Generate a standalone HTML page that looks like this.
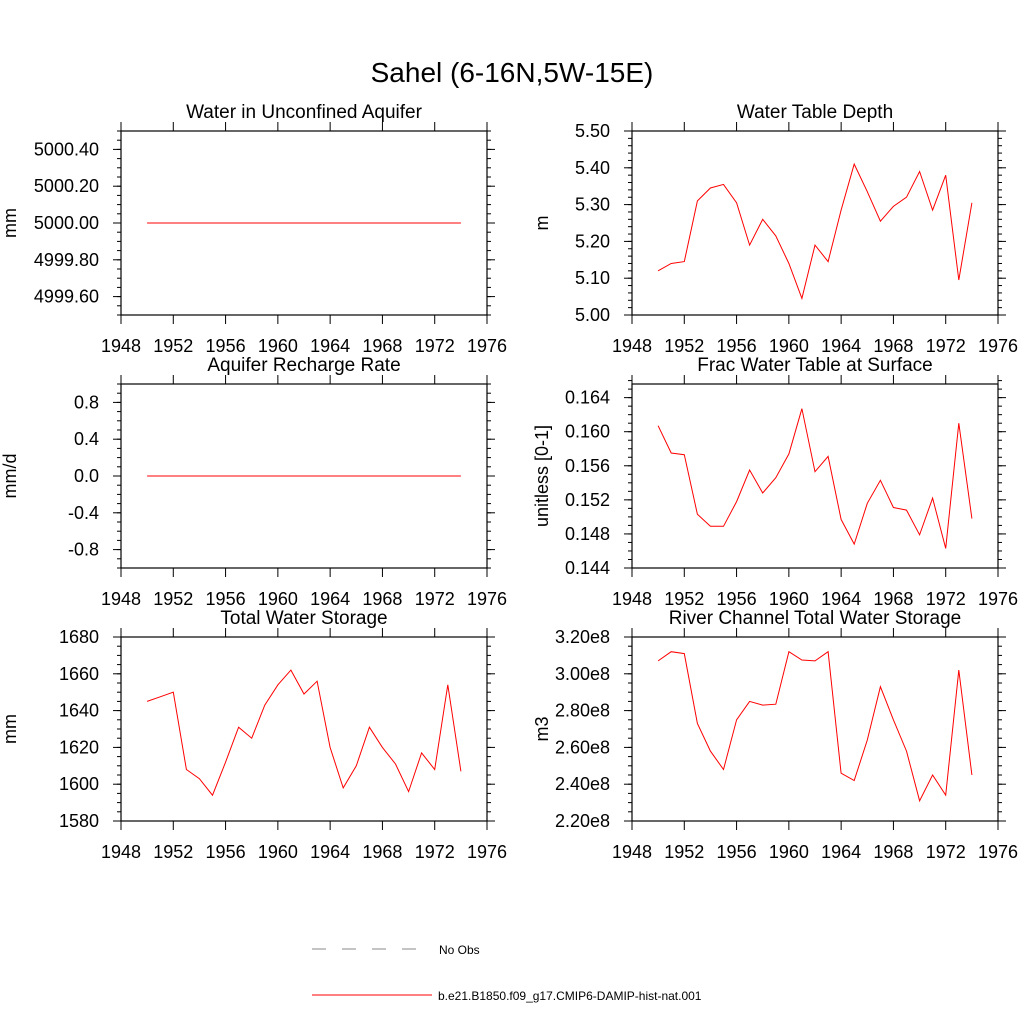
<!DOCTYPE html>
<html><head><meta charset="utf-8"><style>
body{margin:0;background:#fff}
svg text{font-family:"Liberation Sans",sans-serif;fill:#000}
</style></head><body>
<svg id="chart" width="1024" height="1024" viewBox="0 0 1024 1024" xmlns="http://www.w3.org/2000/svg">
<text x="512" y="82" font-size="28" text-anchor="middle">Sahel (6-16N,5W-15E)</text>
<g id="panels"></g>
<g>
<line x1="312" y1="949" x2="432" y2="949" stroke="#888" stroke-width="1" stroke-dasharray="14,16"/>
<text x="439" y="954" font-size="12">No Obs</text>
<line x1="312" y1="995" x2="432" y2="995" stroke="#f00" stroke-width="1"/>
<text x="438" y="1000" font-size="12">b.e21.B1850.f09_g17.CMIP6-DAMIP-hist-nat.001</text>
</g>
</svg>
<script>
const years=[1950,1951,1952,1953,1954,1955,1956,1957,1958,1959,1960,1961,1962,1963,1964,1965,1966,1967,1968,1969,1970,1971,1972,1973,1974];
const xTicks=[1948,1952,1956,1960,1964,1968,1972,1976];
const aquiferVals=[5000,5000,5000,5000,5000,5000,5000,5000,5000,5000,5000,5000,5000,5000,5000,5000,5000,5000,5000,5000,5000,5000,5000,5000,5000];
const wtdVals=[5.12,5.14,5.145,5.31,5.345,5.355,5.305,5.19,5.26,5.215,5.14,5.045,5.19,5.145,5.285,5.41,5.335,5.255,5.295,5.32,5.39,5.285,5.38,5.095,5.305];
const rechargeVals=[0,0,0,0,0,0,0,0,0,0,0,0,0,0,0,0,0,0,0,0,0,0,0,0,0];
const fracVals=[0.1607,0.1575,0.1573,0.1503,0.1489,0.1489,0.1518,0.1555,0.1528,0.1546,0.1574,0.1627,0.1553,0.1571,0.1497,0.1468,0.1516,0.1543,0.1511,0.1508,0.1479,0.1522,0.1463,0.1610,0.1498];
const twsVals=[1645,1647.5,1650,1608,1603,1594,1612,1631,1625,1643,1654,1662,1649,1656,1620,1598,1610,1631,1620,1611,1596,1617,1608,1654,1607];
const riverVals=[3.07,3.12,3.11,2.73,2.58,2.48,2.75,2.85,2.83,2.835,3.12,3.075,3.07,3.12,2.46,2.42,2.64,2.93,2.75,2.58,2.31,2.45,2.34,3.02,2.45];
const aquiferTicks=["4999.60","4999.80","5000.00","5000.20","5000.40"];
const wtdTicks=["5.00","5.10","5.20","5.30","5.40","5.50"];
const rechargeTicks=["-0.8","-0.4","0.0","0.4","0.8"];
const fracTicks=["0.144","0.148","0.152","0.156","0.160","0.164"];
const twsTicks=["1580","1600","1620","1640","1660","1680"];
const riverTicks=["2.20e8","2.40e8","2.60e8","2.80e8","3.00e8","3.20e8"];

const NS="http://www.w3.org/2000/svg";
const root=document.getElementById('panels');
function mk(tag,attrs,parent){const e=document.createElementNS(NS,tag);for(const k in attrs)e.setAttribute(k,attrs[k]);parent.appendChild(e);return e;}

const panels=[
 {name:'aquifer',title:'Water in Unconfined Aquifer',ylab:'mm',x0:121,y0:131,vals:aquiferVals,ticks:aquiferTicks,ymin:4999.5,ymax:5000.5,minor:0.05},
 {name:'water-table-depth',title:'Water Table Depth',ylab:'m',x0:632,y0:131,vals:wtdVals,ticks:wtdTicks,ymin:5.0,ymax:5.5,minor:0.02},
 {name:'recharge',title:'Aquifer Recharge Rate',ylab:'mm/d',x0:121,y0:384,vals:rechargeVals,ticks:rechargeTicks,ymin:-1,ymax:1,minor:0.1},
 {name:'frac-water-table',title:'Frac Water Table at Surface',ylab:'unitless [0-1]',x0:632,y0:384,vals:fracVals,ticks:fracTicks,ymin:0.144,ymax:0.1656,minor:0.001},
 {name:'total-water-storage',title:'Total Water Storage',ylab:'mm',x0:121,y0:637,vals:twsVals,ticks:twsTicks,ymin:1580,ymax:1680,minor:5},
 {name:'river-storage',title:'River Channel Total Water Storage',ylab:'m3',x0:632,y0:637,vals:riverVals,ticks:riverTicks,ymin:2.2,ymax:3.2,minor:0.05}
];
const W=366,H=184;
panels.forEach(p=>{
 const g=mk('g',{},root);
 
 
 const xs=v=>p.x0+(v-1948)/28*W;
 const ys=v=>p.y0+H-(v-p.ymin)/(p.ymax-p.ymin)*H;
 const t=mk('text',{x:p.x0+W/2,y:p.y0-13,'font-size':19,'text-anchor':'middle'},g);t.textContent=p.title;
 
 
 const fr=mk('rect',{x:p.x0,y:p.y0,width:W,height:H,fill:'none',stroke:'#000','stroke-width':1.2},g);
 
 
 xTicks.forEach(yr=>{
  const x=xs(yr);
  mk('line',{x1:x,y1:p.y0+H,x2:x,y2:p.y0+H+9,stroke:'#000','stroke-width':1},g);
  mk('line',{x1:x,y1:p.y0,x2:x,y2:p.y0-9,stroke:'#000','stroke-width':1},g);
  const tl=mk('text',{x:x,y:p.y0+H+37,'font-size':18,'text-anchor':'middle'},g);tl.textContent=yr;
  
  
 });
 const n=Math.round((p.ymax-p.ymin)/p.minor);
 for(let i=0;i<=n;i++){const y=ys(p.ymin+i*p.minor);
  mk('line',{x1:p.x0,y1:y,x2:p.x0-4,y2:y,stroke:'#000','stroke-width':1},g);
  mk('line',{x1:p.x0+W,y1:y,x2:p.x0+W+4,y2:y,stroke:'#000','stroke-width':1},g);}
 p.ticks.forEach(s=>{
  const yy=ys(parseFloat(s.replace('e8','')));
  mk('line',{x1:p.x0,y1:yy,x2:p.x0-8,y2:yy,stroke:'#000','stroke-width':1},g);
  mk('line',{x1:p.x0+W,y1:yy,x2:p.x0+W+8,y2:yy,stroke:'#000','stroke-width':1},g);
  const tl=mk('text',{x:p.x0-22,y:yy+6,'font-size':18,'text-anchor':'end'},g);tl.textContent=s;
  
  
 });
 const lx=p.x0===121?16:548;
 const yl=mk('text',{x:lx,y:p.y0+H/2,'font-size':18,'text-anchor':'middle',transform:`rotate(-90 ${lx} ${p.y0+H/2})`},g);yl.textContent=p.ylab;
 
 
 const pts=years.map((yr,i)=>xs(yr).toFixed(1)+','+ys(p.vals[i]).toFixed(1)).join(' ');
 const pl=mk('polyline',{points:pts,fill:'none',stroke:'#f00','stroke-width':1},g);
 
 
});
</script>
</body></html>
